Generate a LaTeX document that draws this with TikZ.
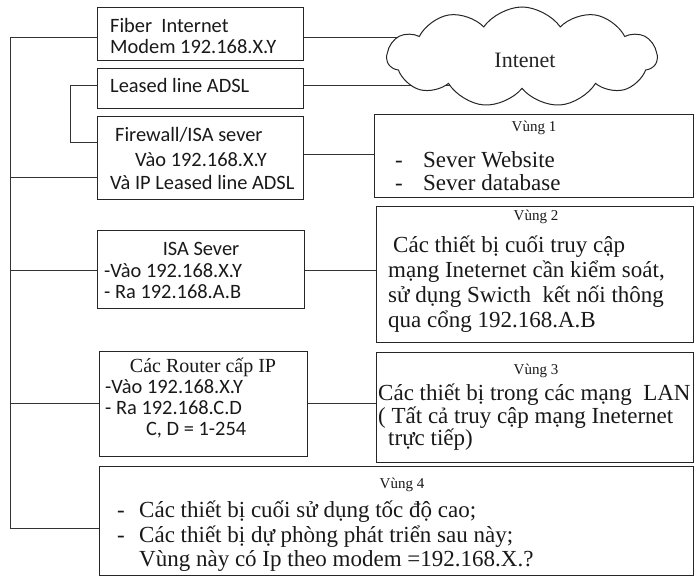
\documentclass[tikz,border=0pt]{standalone}
\usepackage{fontspec}
\setmainfont{Liberation Serif}
\newfontfamily\carl{Carlito}
\usetikzlibrary{shapes.symbols}
\pgfdeclarelayer{bg}
\pgfsetlayers{bg,main}
\tikzset{
  x=1pt, y=-1pt,
  box/.style={draw=black!85, line width=1pt, rectangle, inner sep=0pt, fill=white},
  conn/.style={draw=black!80, line width=1pt},
  st/.style={font=\carl\fontsize{20.4}{24}\selectfont, anchor=base west, inner sep=0pt, text=black!90},
  stc/.style={st, anchor=base},
  rt/.style={font=\fontsize{23}{27}\selectfont, anchor=base west, inner sep=0pt, text=black!90},
  lbl/.style={font=\fontsize{15}{18}\selectfont, anchor=base, inner sep=0pt, text=black!90},
}
\begin{document}
\begin{tikzpicture}
\useasboundingbox (0,0) rectangle (695,577);
% boxes
\node[box, minimum width=206, minimum height=53] (fiber) at (200,34.5) {};
\node[box, minimum width=206, minimum height=40] (leased) at (200,89) {};
\node[box, minimum width=206, minimum height=83] (firewall) at (200,158.5) {};
\node[box, minimum width=207, minimum height=78] (isa) at (200.5,269) {};
\node[box, minimum width=208, minimum height=105] (router) at (203,403.5) {};
\node[box, minimum width=319, minimum height=83] (vung1) at (533.5,156.5) {};
\node[box, minimum width=317, minimum height=135] (vung2) at (534.5,274.5) {};
\node[box, minimum width=317, minimum height=110] (vung3) at (534.5,407) {};
\node[box, minimum width=594, minimum height=109] (vung4) at (396,520.5) {};
\node[cloud, cloud puffs=11, cloud puff arc=110, aspect=2.7, draw=black!85, line width=1pt, fill=white, minimum width=270, minimum height=100, inner sep=0pt] (cloud) at (522,57) {};
\node[font=\fontsize{22}{26}\selectfont, anchor=base, inner sep=0pt, text=black!85] (inet) at (525,68) {Intenet};
% bus
\coordinate (busT) at (10,38);
\coordinate (busB) at (10,528);
\coordinate (brT) at (70,86);
\coordinate (brB) at (70,143);
\begin{pgfonlayer}{bg}
\draw[conn] (fiber.east |- busT) -- (cloud.center |- busT);
\draw[conn] (leased.east |- brT) -- (cloud.center |- brT);
\end{pgfonlayer}
\draw[conn] (fiber.west |- busT) -- (busT) -- (busB) -- (vung4.west |- busB);
\draw[conn] (busT |- 0,178) -- (firewall.west |- 0,178);
\draw[conn] (busT |- 0,270) -- (isa.west |- 0,270);
\draw[conn] (busT |- 0,403) -- (router.west |- 0,403);
\draw[conn] (leased.west |- brT) -- (brT) -- (brB) -- (firewall.west |- brB);
\draw[conn] (firewall.east |- 0,155) -- (vung1.west |- 0,155);
\draw[conn] (isa.east |- 0,270) -- (vung2.west |- 0,270);
\draw[conn] (router.east |- 0,403) -- (vung3.west |- 0,403);
% texts left column
\node[st] (f1) at (110,33) {Fiber~ Internet};
\node[st] (f2) at (110,54) {Modem 192.168.X.Y};
\node[st] (l1) at (110,93) {Leased line ADSL};
\node[st] (w1) at (115,142) {Firewall/ISA sever};
\node[st] (w2) at (135,167) {Vào 192.168.X.Y};
\node[st] (w3) at (110,190) {Và IP Leased line ADSL};
\node[stc] (i1) at (201,255) {ISA Sever};
\node[st] (i2) at (104,277) {-Vào 192.168.X.Y};
\node[st] (i3) at (104,298) {- Ra 192.168.A.B};
\node[font=\fontsize{20}{24}\selectfont, anchor=base, inner sep=0pt, text=black!90] (r1) at (203,372) {Các Router cấp IP};
\node[st] (r2) at (105,393) {-Vào 192.168.X.Y};
\node[st] (r3) at (105,414) {- Ra 192.168.C.D};
\node[st] (r4) at (146,435) {C, D = 1-254};
% vung 1
\node[lbl] (v1t) at (534,132) {Vùng 1};
\node[rt] (v1d1) at (395,168) {-};
\node[rt] (v1a) at (423,168) {Sever Website};
\node[rt] (v1d2) at (395,191) {-};
\node[rt] (v1b) at (423,191) {Sever database};
% vung 2
\node[lbl] (v2t) at (536,221) {Vùng 2};
\node[rt] (v2a) at (393,252) {Các thiết bị cuối truy cập};
\node[rt] (v2b) at (388,277) {mạng Ineternet cần kiểm soát,};
\node[rt] (v2c) at (388,302) {sử dụng Swicth~ kết nối thông};
\node[rt] (v2d) at (388,327) {qua cổng 192.168.A.B};
% vung 3
\node[lbl] (v3t) at (536,374) {Vùng 3};
\node[rt] (v3a) at (378,400) {Các thiết bị trong các mạng~ LAN};
\node[rt] (v3b) at (378,423) {( Tất cả truy cập mạng Ineternet};
\node[rt] (v3c) at (388,445) {trực tiếp)};
% vung 4
\node[lbl] (v4t) at (402,488) {Vùng 4};
\node[rt] (v4d1) at (117,517) {-};
\node[rt] (v4a) at (139,517) {Các thiết bị cuối sử dụng tốc độ cao;};
\node[rt] (v4d2) at (117,542) {-};
\node[rt] (v4b) at (139,542) {Các thiết bị dự phòng phát triển sau này;};
\node[rt] (v4c) at (139,566) {Vùng này có Ip theo modem =192.168.X.?};
\end{tikzpicture}
\end{document}
